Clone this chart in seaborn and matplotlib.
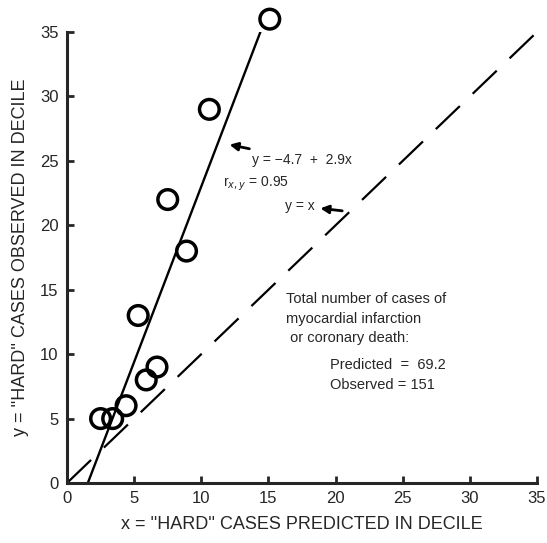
import numpy as np
import pandas as pd
import seaborn as sns
import matplotlib.pyplot as plt

# deciles: predicted vs observed "hard" cases
predicted = [2.5, 3.4, 4.4, 5.9, 6.7, 5.3, 8.9, 7.5, 10.6, 15.1]
observed = [5, 5, 6, 8, 9, 13, 18, 22, 29, 36]
fit_x = [1.55, 14.4]
fit_y = [0, 35]
ident = [0, 36]
ticks = [0, 5, 10, 15, 20, 25, 30, 35]

sns.set_style("ticks")
plt.rcParams['font.family'] = ['Liberation Sans', 'DejaVu Sans']

df = pd.DataFrame({"x": predicted, "y": observed})

fig = plt.figure(figsize=(5.47, 5.43), dpi=100)
ax = fig.add_axes([0.1225, 0.1105, 0.8592, 0.8305])

sns.scatterplot(data=df, x="x", y="y", ax=ax, s=200, facecolor="none",
                edgecolor="black", linewidth=2.5, clip_on=False, zorder=3)
sns.lineplot(x=fit_x, y=fit_y, ax=ax, color="black", linewidth=1.7)
ax.plot(ident, ident, color="black", linewidth=1.6, dashes=(15, 8))

ax.set_xlim(0, 35)
ax.set_ylim(0, 35)
ax.set_xticks(ticks)
ax.set_yticks(ticks)
ax.tick_params(direction="in", length=5, width=2, labelsize=12, pad=6)
for s in ["left", "bottom"]:
    ax.spines[s].set_linewidth(2.2)
sns.despine(ax=ax)

ax.set_xlabel("x = ''HARD'' CASES PREDICTED IN DECILE", fontsize=13, labelpad=7)
ax.set_ylabel("y = ''HARD'' CASES OBSERVED IN DECILE", fontsize=13, labelpad=8)

ax.annotate("y = \u22124.7  +  2.9x", xy=(11.9, 26.3), xytext=(13.8, 25.1),
            fontsize=10, va="center",
            arrowprops=dict(arrowstyle="-|>", color="black", lw=2, mutation_scale=12))
ax.text(11.6, 23.2, r"r$_{x,y}$ = 0.95", fontsize=10, va="center")
ax.annotate("y = x", xy=(20.7, 21.1), xytext=(16.2, 21.5),
            fontsize=10, va="center",
            arrowprops=dict(arrowstyle="<|-", color="black", lw=2, mutation_scale=12))

ax.text(16.3, 14.8, "Total number of cases of\nmyocardial infarction\n or coronary death:",
        fontsize=10.5, va="top", linespacing=1.5)
ax.text(19.6, 9.7, "Predicted  =  69.2\nObserved = 151", fontsize=10.5, va="top",
        linespacing=1.5)

fig.savefig("out.png", dpi=100)
